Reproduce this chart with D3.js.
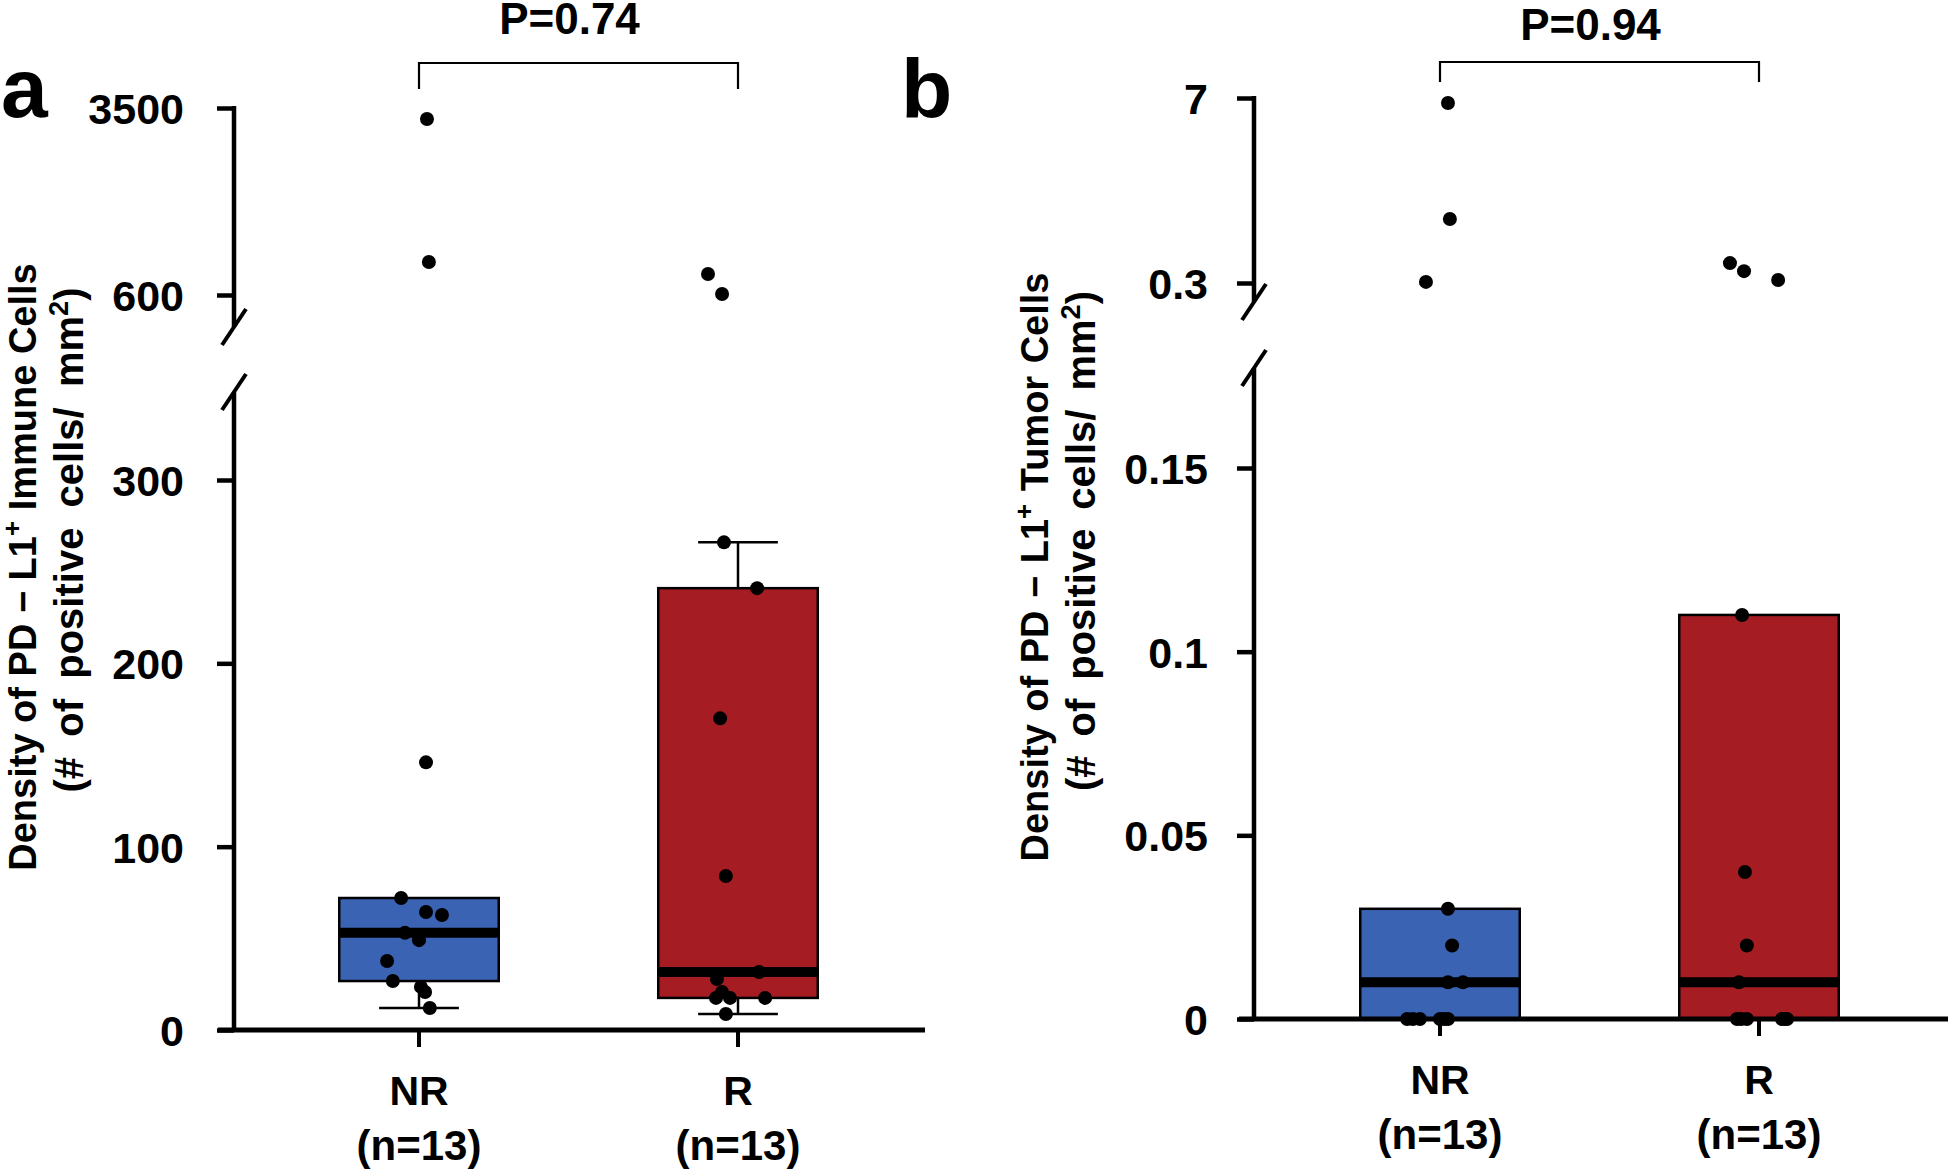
<!DOCTYPE html>
<html>
<head>
<meta charset="utf-8">
<script src="https://cdn.jsdelivr.net/npm/d3@7"></script>
<style>
  body { margin: 0; background: #fff; }
  svg { display: block; }
  text { font-family: "Liberation Sans", Arial, Helvetica, sans-serif; font-weight: bold; fill: #000; }
</style>
</head>
<body>
<svg id="chart" width="1948" height="1169"></svg>
<script>
// ---- data ----
const groups = ["NR", "R"];
const groupCounts = ["(n=13)", "(n=13)"];
const pLabels = ["P=0.74", "P=0.94"];

// panel a: PD-L1+ immune cells (#/mm2)
const immuneNR = [3330, 1112, 146, 72, 64.4, 62.7, 53, 49, 37.6, 26.7, 23.5, 20.7, 12];
const immuneNRJitter = [0.025, 0.031, 0.022, -0.056, 0.022, 0.072, -0.044, 0, -0.1, -0.082, 0.006, 0.019, 0.034];
const immuneR = [926, 615, 266, 241, 170, 84, 31.6, 27.8, 20.7, 17.5, 17.5, 17.5, 8.7];
const immuneRJitter = [-0.094, -0.05, -0.044, 0.06, -0.056, -0.038, 0.066, -0.066, -0.05, -0.069, 0.085, -0.025, -0.038];
const immuneLowerTicks = [0, 100, 200, 300];
const immuneUpperTicks = [600, 3500];

// panel b: PD-L1+ tumor cells (#/mm2)
const tumorNR = [6.82, 2.62, 0.34, 0.03, 0.02, 0.01, 0.01, 0, 0, 0, 0, 0, 0];
const tumorNRJitter = [0.025, 0.031, -0.044, 0.025, 0.038, 0.025, 0.072, -0.103, -0.063, 0, 0.025, -0.085, 0.013];
const tumorR = [1.02, 0.73, 0.41, 0.11, 0.04, 0.02, 0.01, 0, 0, 0, 0, 0, 0];
const tumorRJitter = [-0.091, -0.047, 0.06, -0.053, -0.044, -0.038, -0.063, -0.069, -0.038, 0.072, 0.088, -0.056, 0.082];
const tumorLowerTicks = [0, 0.05, 0.1, 0.15];
const tumorUpperTicks = [0.3, 7];

const boxColors = ["#3b63b4", "#a51d23"];

// ---- layout of the two panels ----
const panels = [
  {
    letter: "a", letterX: 1, letterY: 117,
    title: ["Density of PD \u2212 L1", "+", " Immune Cells"],
    sub: ["(# of positive cells/ mm", "2", ")"],
    titleX: [36, 83], titleY: [567, 540], titleLen: [599, 505],
    axisX: 234, baseLeft: 218, baseRight: 925, groupX: [419, 738],
    lowerDomain: [0, 300], lowerRange: [1030, 480], lowerTop: 392,
    upperDomain: [600, 3500], upperRange: [295, 108], upperBottom: 327,
    breakValue: 400, tickPad: 33,
    lowerTicks: immuneLowerTicks, upperTicks: immuneUpperTicks,
    series: [[immuneNR, immuneNRJitter], [immuneR, immuneRJitter]],
    p: pLabels[0], bracketY: 63, bracketLeg: 26, pY: 34
  },
  {
    letter: "b", letterX: 901, letterY: 118,
    title: ["Density of PD \u2212 L1", "+", " Tumor Cells"],
    sub: ["(# of positive cells/ mm", "2", ")"],
    titleX: [1048, 1095], titleY: [567, 541], titleLen: [589, 500],
    axisX: 1254, baseLeft: 1239, baseRight: 1948, groupX: [1440, 1759],
    lowerDomain: [0, 0.15], lowerRange: [1019, 468], lowerTop: 368,
    upperDomain: [0.3, 7], upperRange: [283, 98], upperBottom: 302,
    breakValue: 0.2, tickPad: 29,
    lowerTicks: tumorLowerTicks, upperTicks: tumorUpperTicks,
    series: [[tumorNR, tumorNRJitter], [tumorR, tumorRJitter]],
    p: pLabels[1], bracketY: 62, bracketLeg: 20, pY: 40
  }
];

const svg = d3.select("#chart");

function boxStats(values) {
  const s = values.slice().sort(d3.ascending);
  const q1 = d3.quantile(s, 0.25), med = d3.quantile(s, 0.5), q3 = d3.quantile(s, 0.75);
  const iqr = q3 - q1;
  const lo = d3.min(s.filter(v => v >= q1 - 1.5 * iqr));
  const hi = d3.max(s.filter(v => v <= q3 + 1.5 * iqr));
  return { q1, med, q3, lo, hi };
}

function titleLine(g, x, yc, parts, target, size) {
  const t = g.append("text")
    .attr("transform", `translate(${x},${yc}) rotate(-90)`)
    .attr("text-anchor", "middle")
    .attr("font-size", size);
  t.append("tspan").text(parts[0]);
  t.append("tspan").attr("font-size", size * 0.68).attr("dy", -15).text(parts[1]);
  t.append("tspan").attr("dy", 15).text(parts[2]);
  // widen word gaps a little so the line spans what the figure shows
  const n = (parts.join("").match(/ /g) || []).length;
  const len = t.node().getComputedTextLength();
  t.style("word-spacing", Math.max(0, (target - len) / n) + "px");
}

panels.forEach(p => {
  const g = svg.append("g");
  const x = d3.scaleLinear().domain([0, 1]).range(p.groupX);
  const yLow = d3.scaleLinear().domain(p.lowerDomain).range(p.lowerRange);
  const yUp = d3.scaleLinear().domain(p.upperDomain).range(p.upperRange);
  const yOf = v => v > p.breakValue ? yUp(v) : yLow(v);
  const bandPx = p.groupX[1] - p.groupX[0];

  // panel letter
  g.append("text").attr("x", p.letterX).attr("y", p.letterY)
    .attr("font-size", 84).text(p.letter);

  // y title
  titleLine(g, p.titleX[0], p.titleY[0], p.title, p.titleLen[0], 38);
  titleLine(g, p.titleX[1], p.titleY[1], p.sub, p.titleLen[1], 40);

  // y axes (two segments with break)
  const lowerAxis = d3.axisLeft(yLow).tickValues(p.lowerTicks).tickSize(17)
    .tickPadding(p.tickPad).tickFormat(d => String(d));
  const upperAxis = d3.axisLeft(yUp).tickValues(p.upperTicks).tickSize(17)
    .tickPadding(p.tickPad).tickFormat(d => String(d));
  [lowerAxis, upperAxis].forEach(ax => {
    const a = g.append("g").attr("transform", `translate(${p.axisX},0)`).call(ax);
    a.select(".domain").remove();
    a.selectAll(".tick line").attr("stroke", "#000").attr("stroke-width", 4.5);
    a.selectAll(".tick text").attr("font-size", 43).attr("dy", "0.36em")
      .style("font-family", "'Liberation Sans', Arial, sans-serif").style("font-weight", "bold");
  });
  g.append("line").attr("x1", p.axisX).attr("x2", p.axisX)
    .attr("y1", yLow(0)).attr("y2", p.lowerTop)
    .attr("stroke", "#000").attr("stroke-width", 4.5);
  g.append("line").attr("x1", p.axisX).attr("x2", p.axisX)
    .attr("y1", yUp(p.upperDomain[1]) - 2).attr("y2", p.upperBottom)
    .attr("stroke", "#000").attr("stroke-width", 4.5);
  [p.upperBottom, p.lowerTop].forEach(yb => {
    g.append("line")
      .attr("x1", p.axisX - 12).attr("y1", yb + 18)
      .attr("x2", p.axisX + 12).attr("y2", yb - 18)
      .attr("stroke", "#000").attr("stroke-width", 4);
  });

  // boxes
  p.series.forEach(([vals], i) => {
    const s = boxStats(vals);
    const cx = x(i);
    const w = bandPx * 0.5;
    if (s.hi > s.q3) {
      g.append("line").attr("x1", cx).attr("x2", cx).attr("y1", yLow(s.q3)).attr("y2", yLow(s.hi))
        .attr("stroke", "#000").attr("stroke-width", 2.5);
      g.append("line").attr("x1", cx - w / 4).attr("x2", cx + w / 4).attr("y1", yLow(s.hi)).attr("y2", yLow(s.hi))
        .attr("stroke", "#000").attr("stroke-width", 2.5);
    }
    if (s.lo < s.q1) {
      g.append("line").attr("x1", cx).attr("x2", cx).attr("y1", yLow(s.q1)).attr("y2", yLow(s.lo))
        .attr("stroke", "#000").attr("stroke-width", 2.5);
      g.append("line").attr("x1", cx - w / 4).attr("x2", cx + w / 4).attr("y1", yLow(s.lo)).attr("y2", yLow(s.lo))
        .attr("stroke", "#000").attr("stroke-width", 2.5);
    }
    g.append("rect").attr("x", cx - w / 2).attr("width", w)
      .attr("y", yLow(s.q3)).attr("height", yLow(s.q1) - yLow(s.q3))
      .attr("fill", boxColors[i]).attr("stroke", "#000").attr("stroke-width", 2.5);
    g.append("line").attr("x1", cx - w / 2).attr("x2", cx + w / 2)
      .attr("y1", yLow(s.med)).attr("y2", yLow(s.med))
      .attr("stroke", "#000").attr("stroke-width", 10);
  });

  // baseline + group ticks
  g.append("line").attr("x1", p.baseLeft).attr("x2", p.baseRight)
    .attr("y1", yLow(0)).attr("y2", yLow(0))
    .attr("stroke", "#000").attr("stroke-width", 5);
  groups.forEach((name, i) => {
    g.append("line").attr("x1", x(i)).attr("x2", x(i))
      .attr("y1", yLow(0)).attr("y2", yLow(0) + 17)
      .attr("stroke", "#000").attr("stroke-width", 4);
    g.append("text").attr("x", x(i)).attr("y", yLow(0) + 75)
      .attr("text-anchor", "middle").attr("font-size", 41).text(name);
    g.append("text").attr("x", x(i)).attr("y", yLow(0) + 130)
      .attr("text-anchor", "middle").attr("font-size", 42).text(groupCounts[i]);
  });

  // points
  p.series.forEach(([vals, jit], i) => {
    g.append("g").selectAll("circle").data(vals).join("circle")
      .attr("cx", (d, k) => x(i + jit[k]))
      .attr("cy", d => yOf(d))
      .attr("r", 7).attr("fill", "#000");
  });

  // significance bracket
  const bx0 = x(0), bx1 = x(1);
  g.append("path")
    .attr("d", `M${bx0},${p.bracketY + p.bracketLeg}V${p.bracketY}H${bx1}V${p.bracketY + p.bracketLeg}`)
    .attr("fill", "none").attr("stroke", "#000").attr("stroke-width", 2.2);
  g.append("text").attr("x", (bx0 + bx1) / 2 - 9).attr("y", p.pY)
    .attr("text-anchor", "middle").attr("font-size", 44).text(p.p);
});
</script>
</body>
</html>
